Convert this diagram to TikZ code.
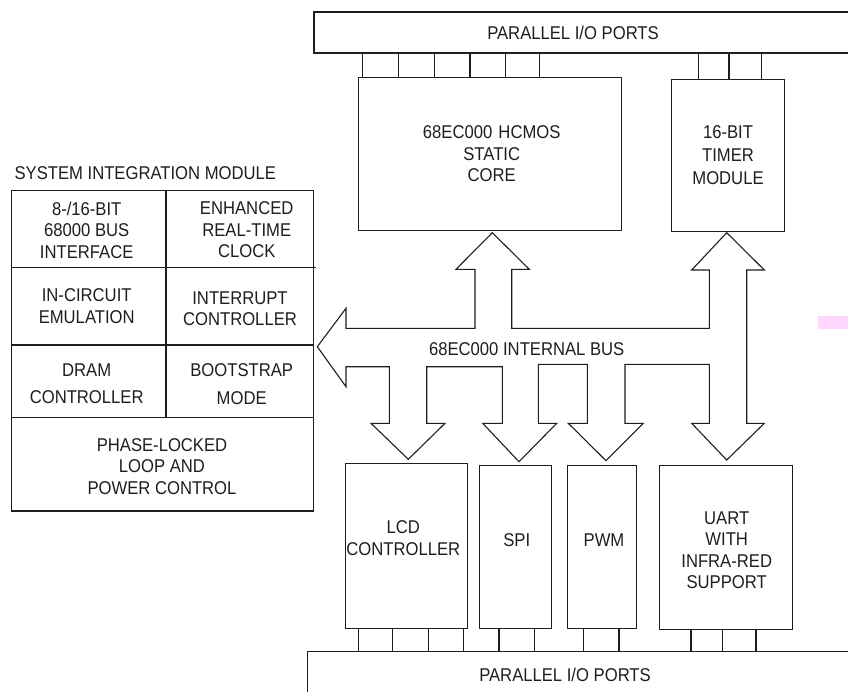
\documentclass[tikz,border=0pt]{standalone}
\usepackage{fontspec}
\setmainfont[FakeStretch=0.9]{Liberation Sans}
\definecolor{inkc}{RGB}{30,30,30}
\definecolor{pinkc}{RGB}{255,214,252}
\begin{document}
\begin{tikzpicture}[x=1pt,y=-1pt, line width=1.1pt, draw=inkc,
  lbl/.style={font=\fontsize{18.5}{21.5}\selectfont, align=center, inner sep=0pt, text=inkc},
  blk/.style={draw=inkc, anchor=north west, inner sep=0pt, line width=1.1pt},
  pin/.style={draw=inkc, line width=1.1pt}]
\useasboundingbox (0,0) rectangle (848,691);
\clip (0,0) rectangle (848,691);
\fill[white] (0,0) rectangle (848,691);
\fill[pinkc] (817.7,315.7) rectangle (848,329.3);

% top parallel ports
\draw (314,12) rectangle (870,53);
\node[lbl] (ptoptxt) at (573,33) {PARALLEL I/O PORTS};
% core
\node[blk, minimum width=262.4pt, minimum height=153pt] (core) at (358.3,77) {};
\node[lbl, text width=200pt] (coretxt) at (491.7,154) {68EC000 HCMOS\\STATIC\\CORE};
% timer
\node[blk, minimum width=113.3pt, minimum height=151.7pt] (timer) at (670.7,79.3) {};
\node[lbl, text width=100pt, font=\fontsize{18.5}{23}\selectfont] (timertxt) at (728,155) {16-BIT\\TIMER\\MODULE};
% top pins
\foreach \x in {362.7,398.7,434.3,470,505.7,539.3} \draw[pin] (\x,53) -- (\x,77);
\foreach \x in {698.3,729,761.3} \draw[pin] (\x,53) -- (\x,79.3);

% SIM
\node[lbl, anchor=west] (simtitle) at (14,173) {SYSTEM INTEGRATION MODULE};
\draw (11.7,190.7) rectangle (313.3,511);
\draw (11.7,267.7) -- (316,267.7);
\draw (11.7,345) -- (313.3,345);
\draw (11.7,417.7) -- (313.3,417.7);
\draw (166,190.7) -- (166,417.7);
\node[lbl] (c1) at (86.7,230) {8-/16-BIT\\68000 BUS\\INTERFACE};
\node[lbl] (c2) at (246.7,230) {ENHANCED\\REAL-TIME\\CLOCK};
\node[lbl] (c3) at (86.7,306) {IN-CIRCUIT\\EMULATION};
\node[lbl] (c4) at (240,308.5) {INTERRUPT\\CONTROLLER};
\node[lbl, font=\fontsize{18.5}{27}\selectfont] (c5) at (86.7,383.5) {DRAM\\CONTROLLER};
\node[lbl, font=\fontsize{18.5}{28}\selectfont] (c6) at (241.7,384) {BOOTSTRAP\\MODE};
\node[lbl] (c7) at (162,466.5) {PHASE-LOCKED\\LOOP AND\\POWER CONTROL};

% internal bus
\draw[line join=miter] (317.3,346.7) -- (346,308.3) -- (346,328.3) -- (475,328.3) -- (475,269.3) -- (456,269.3) -- (492.3,232.7) -- (529.3,269.3) -- (511.7,269.3) -- (511.7,328.3) -- (709.3,328.3) -- (709.3,270) -- (691.7,270) -- (726.7,232.7) -- (764.3,270) -- (746.7,270) -- (746.7,423.3) -- (764.3,423.3) -- (726.7,460) -- (691.7,423.3) -- (709.3,423.3) -- (709.3,364.3) -- (625,364.3) -- (625,423.3) -- (643.3,423.3) -- (606,460.7) -- (568.3,423.3) -- (587.3,423.3) -- (587.3,364.3) -- (538.3,364.3) -- (538.3,423.3) -- (556.7,423.3) -- (519,461.7) -- (482.7,423.3) -- (502.3,423.3) -- (502.3,366.7) -- (426.7,366.7) -- (426.7,423.3) -- (445,423.3) -- (408.3,459.3) -- (371,423.3) -- (389.3,423.3) -- (389.3,366.7) -- (346,366.7) -- (346,386.7) -- cycle;
\node[lbl] (bustxt) at (526.7,349.3) {68EC000 INTERNAL BUS};

% bottom blocks
\node[blk, minimum width=121.7pt, minimum height=164.4pt] (lcd) at (345,463.3) {};
\node[lbl] (lcdtxt) at (403.3,538.3) {LCD\\CONTROLLER};
\node[blk, minimum width=71.4pt, minimum height=162.7pt] (spi) at (479.3,465) {};
\node[lbl] (spitxt) at (516.7,540) {SPI};
\node[blk, minimum width=69.3pt, minimum height=162.7pt] (pwm) at (566.7,465) {};
\node[lbl] (pwmtxt) at (604,540) {PWM};
\node[blk, minimum width=132.7pt, minimum height=164.3pt] (uart) at (659,465) {};
\node[lbl] (uarttxt) at (726.7,550) {UART\\WITH\\INFRA-RED\\SUPPORT};

% bottom pins
\foreach \x in {358.3,392.3,428.3,463.3,499,534.3,583.3,619} \draw[pin] (\x,627.7) -- (\x,651.7);
\foreach \x in {691,722.3,756} \draw[pin] (\x,629.3) -- (\x,651.7);

% bottom parallel ports
\draw (307.3,651.7) rectangle (870,700);
\node[lbl] (pbottxt) at (565,675) {PARALLEL I/O PORTS};
\end{tikzpicture}
\end{document}
